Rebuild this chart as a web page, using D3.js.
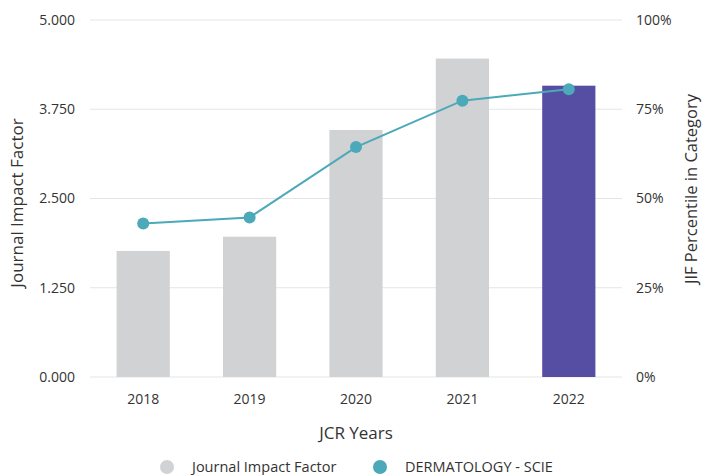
<!DOCTYPE html>
<html>
<head>
<meta charset="utf-8">
<script src="https://cdn.jsdelivr.net/npm/d3@7"></script>
<style>
  body { margin: 0; background: #fff; }
  svg text { font-family: "Open Sans", sans-serif; fill: #333; }
</style>
</head>
<body>
<svg width="704" height="475"></svg>
<script>
// Chart data
const YEARS = ["2018", "2019", "2020", "2021", "2022"];
const JIF = [1.765, 1.965, 3.46, 4.46, 4.08];
const PERCENTILE = [43.0, 44.7, 64.4, 77.4, 80.6];
const LEFT_TICKS = [0, 1.25, 2.5, 3.75, 5];
const RIGHT_TICKS = [0, 25, 50, 75, 100];

// Colours
const GREY = "#d1d2d4";
const PURPLE = "#564ea3";
const TEAL = "#4ba9b9";

const svg = d3.select("svg");
const margin = { top: 20, right: 82, bottom: 98, left: 90 };
const width = 704 - margin.left - margin.right;
const height = 475 - margin.top - margin.bottom;

const g = svg.append("g").attr("transform", `translate(${margin.left},${margin.top})`);

const x = d3.scaleBand().domain(YEARS).range([0, width]).paddingInner(0.5).paddingOuter(0.25);
const yLeft = d3.scaleLinear().domain([0, 5]).range([height, 0]);
const yRight = d3.scaleLinear().domain([0, 100]).range([height, 0]);

// Gridlines
g.append("g")
  .selectAll("line")
  .data(LEFT_TICKS)
  .enter()
  .append("line")
  .attr("x1", 0)
  .attr("x2", width)
  .attr("y1", (d) => yLeft(d))
  .attr("y2", (d) => yLeft(d))
  .attr("stroke", "#e5e5e5")
  .attr("stroke-width", 1);

// Left axis
const leftAxis = g.append("g")
  .attr("transform", "translate(-12,0)")
  .call(d3.axisLeft(yLeft).tickValues(LEFT_TICKS).tickFormat(d3.format(".3f")).tickSize(0));
leftAxis.select(".domain").remove();
leftAxis.selectAll("text").style("font-size", "14px");

// Right axis
const rightAxis = g.append("g")
  .attr("transform", `translate(${width + 11},0)`)
  .call(d3.axisRight(yRight).tickValues(RIGHT_TICKS).tickFormat((d) => d + "%").tickSize(0));
rightAxis.select(".domain").remove();
rightAxis.selectAll("text").style("font-size", "14px");

// Bottom axis
const bottomAxis = g.append("g")
  .attr("transform", `translate(0,${height + 14})`)
  .call(d3.axisBottom(x).tickSize(0));
bottomAxis.select(".domain").remove();
bottomAxis.selectAll("text").style("font-size", "14px");

// Bars
g.append("g")
  .selectAll("rect")
  .data(YEARS)
  .enter()
  .append("rect")
  .attr("x", (d) => x(d))
  .attr("width", x.bandwidth())
  .attr("y", (d, i) => yLeft(JIF[i]))
  .attr("height", (d, i) => height - yLeft(JIF[i]))
  .attr("fill", (d, i) => i === YEARS.length - 1 ? PURPLE : GREY);

// Percentile line
const line = d3.line()
  .x((d, i) => x(YEARS[i]) + x.bandwidth() / 2)
  .y((d) => yRight(d));

g.append("path")
  .datum(PERCENTILE)
  .attr("d", line)
  .attr("fill", "none")
  .attr("stroke", TEAL)
  .attr("stroke-width", 2);

g.append("g")
  .selectAll("circle")
  .data(PERCENTILE)
  .enter()
  .append("circle")
  .attr("cx", (d, i) => x(YEARS[i]) + x.bandwidth() / 2)
  .attr("cy", (d) => yRight(d))
  .attr("r", 6)
  .attr("fill", TEAL);

// Axis titles
svg.append("text")
  .attr("transform", "translate(23,203) rotate(-90)")
  .attr("text-anchor", "middle")
  .style("font-size", "17px")
  .text("Journal Impact Factor");

svg.append("text")
  .attr("transform", "translate(697,189) rotate(-90)")
  .attr("text-anchor", "middle")
  .style("font-size", "16.5px")
  .text("JIF Percentile in Category");

svg.append("text")
  .attr("x", margin.left + width / 2)
  .attr("y", 439)
  .attr("text-anchor", "middle")
  .style("font-size", "17px")
  .text("JCR Years");

// Legend
const legend = [
  { label: "Journal Impact Factor", colour: GREY, cx: 167 },
  { label: "DERMATOLOGY - SCIE", colour: TEAL, cx: 380 }
];
const items = svg.append("g")
  .selectAll("g")
  .data(legend)
  .enter()
  .append("g");
items.append("circle")
  .attr("cx", (d) => d.cx)
  .attr("cy", 467)
  .attr("r", 7)
  .attr("fill", (d) => d.colour);
items.append("text")
  .attr("x", (d) => d.cx + 25)
  .attr("y", 472)
  .style("font-size", "14.5px")
  .text((d) => d.label);
</script>
</body>
</html>
